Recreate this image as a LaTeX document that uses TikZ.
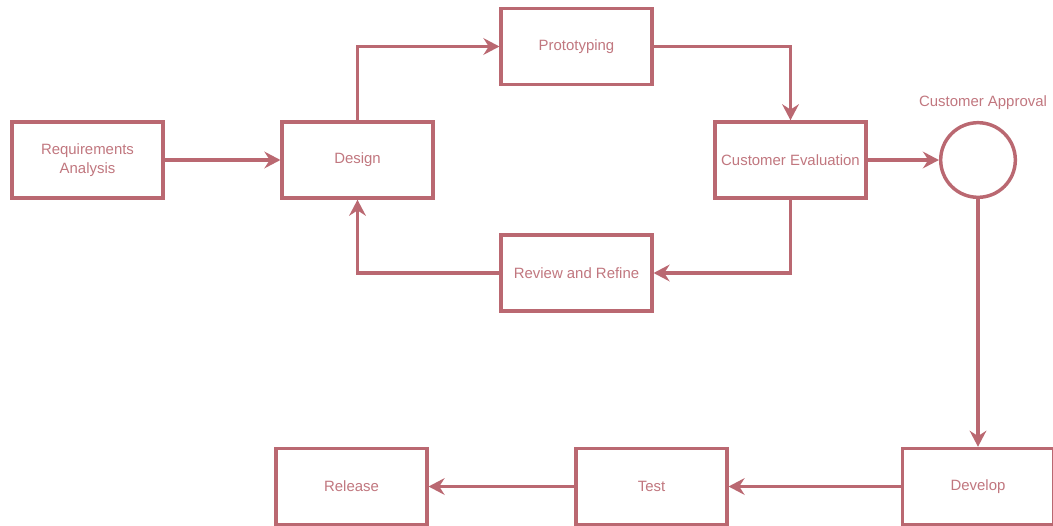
\documentclass[tikz,border=0pt]{standalone}
\usepackage{fontspec}
\setmainfont{Liberation Sans}
\usetikzlibrary{arrows.meta}
\definecolor{rosy}{RGB}{186,104,113}
\tikzset{
  stage/.style={draw=rosy, line width=2.6pt, fill=white, text=rosy!90,
    minimum width=113pt, minimum height=57pt, align=center,
    font=\fontsize{11.2}{14.2}\selectfont},
  flow/.style={draw=rosy, line width=2.6pt,
    -{Stealth[length=12pt, width=12.5pt, inset=4pt]}},
}

\begin{document}
\begin{tikzpicture}[x=0.75pt, y=-0.75pt]
		%%%%% START %%%%%
		\useasboundingbox (0, 0) rectangle (1053, 525);
		
		\node[stage] (req) at (87.5, 160) {Requirements\\Analysis};
		\node[stage] (design) at (357.5, 160) {Design};
		\node[stage] (proto) at (576.5, 46.5) {Prototyping};
		\node[stage] (evalu) at (790.5, 160) {Customer Evaluation};
		\node[stage] (refine) at (576.5, 273) {Review and Refine};
		
		\node[circle, draw=rosy, line width=2.6pt, minimum size=56pt] (approve) at (978, 160) {};
		\node[text=rosy!90, font=\fontsize{11.2}{13}\selectfont] (approvetxt) at (983, 103) {Customer Approval};
		
		\node[stage] (develop) at (978, 486.5) {Develop};
		\node[stage] (test) at (651.5, 486.5) {Test};
		\node[stage] (release) at (351.5, 486.5) {Release};
		
		% prototyping loop
		\draw[flow] (req) -- (design);
		\draw[flow] (design.north) |- (proto.west);
		\draw[flow] (proto.east) -| (evalu.north);
		\draw[flow] (evalu.south) |- (refine.east);
		\draw[flow] (refine.west) -| (design.south);
		
		% after approval
		\draw[flow] (evalu) -- (approve);
		\draw[flow] (approve.south) -- (approve.south |- develop.north);
		\draw[flow] (develop) -- (test);
		\draw[flow] (test) -- (release);
		
		%%%%% END %%%%%
	\end{tikzpicture}
\end{document}
